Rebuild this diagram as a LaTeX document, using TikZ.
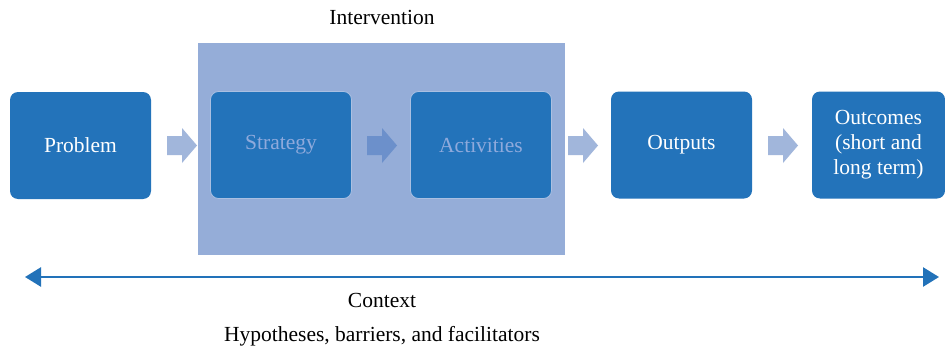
\documentclass[tikz,border=0pt]{standalone}
\usepackage{fontspec}
\setmainfont{Liberation Serif}
\usetikzlibrary{arrows.meta,calc}
\definecolor{boxblue}{RGB}{35,115,186}
\definecolor{intbg}{RGB}{149,173,216}
\definecolor{arrlight}{RGB}{161,182,219}
\definecolor{arrdark}{RGB}{108,144,203}
\definecolor{fadetext}{RGB}{143,170,220}
\definecolor{boxedge}{RGB}{170,192,226}
\definecolor{ctxblue}{RGB}{34,114,185}
\tikzset{
  stagebox/.style={fill=boxblue, rounded corners=8pt, minimum width=141pt, minimum height=107pt, inner sep=0pt, text=white, align=center, font=\fontsize{21.5}{25}\selectfont},
  innerbox/.style={stagebox, draw=boxedge, line width=0.8pt, text=fadetext},
  label/.style={font=\fontsize{21.5}{25}\selectfont, text=black}
}
\newcommand\blockarr[2]{\fill[#2, shift={(#1)}] (-15,-9.5) -- (0,-9.5) -- (0,-17.5) -- (15,0) -- (0,17.5) -- (0,9.5) -- (-15,9.5) -- cycle;}
\begin{document}
\begin{tikzpicture}[x=1pt,y=-1pt]
\useasboundingbox (0,0) rectangle (945,353);
\fill[white] (0,0) rectangle (945,353);
\begin{scope}
\clip (0,0) rectangle (945,353);
\node[fill=intbg, minimum width=367pt, minimum height=212pt, inner sep=0pt] (int) at (381.5,149) {};
\node[stagebox] (problem) at (80.5,145.5) {Problem};
\node[innerbox] (strategy) at (281,145) {Strategy};
\node[innerbox] (activities) at (481,145) {Activities};
\node[stagebox] (outputs) at (681.5,145) {Outputs};
\node[stagebox, minimum width=133pt] (outcomes) at (878.5,145) {Outcomes\\(short and\\long term)};
\end{scope}
\coordinate (a1) at (182,145.5);
\coordinate (a2) at (382,145.5);
\coordinate (a3) at (583,145.5);
\coordinate (a4) at (783,145.5);
\blockarr{a1}{arrlight}
\blockarr{a2}{arrdark}
\blockarr{a3}{arrlight}
\blockarr{a4}{arrlight}
\node[label] (inttitle) at (382,17) {Intervention};
\coordinate (cl) at (25,277);
\coordinate (cr) at (939,277);
\draw[ctxblue, line width=2.5pt, {Triangle[length=16pt,width=19pt]}-{Triangle[length=16pt,width=19pt]}] (cl) -- (cr);
\node[label] (context) at (382,300) {Context};
\node[label] (hyp) at (382,336) {Hypotheses, barriers, and facilitators};
\end{tikzpicture}
\end{document}
